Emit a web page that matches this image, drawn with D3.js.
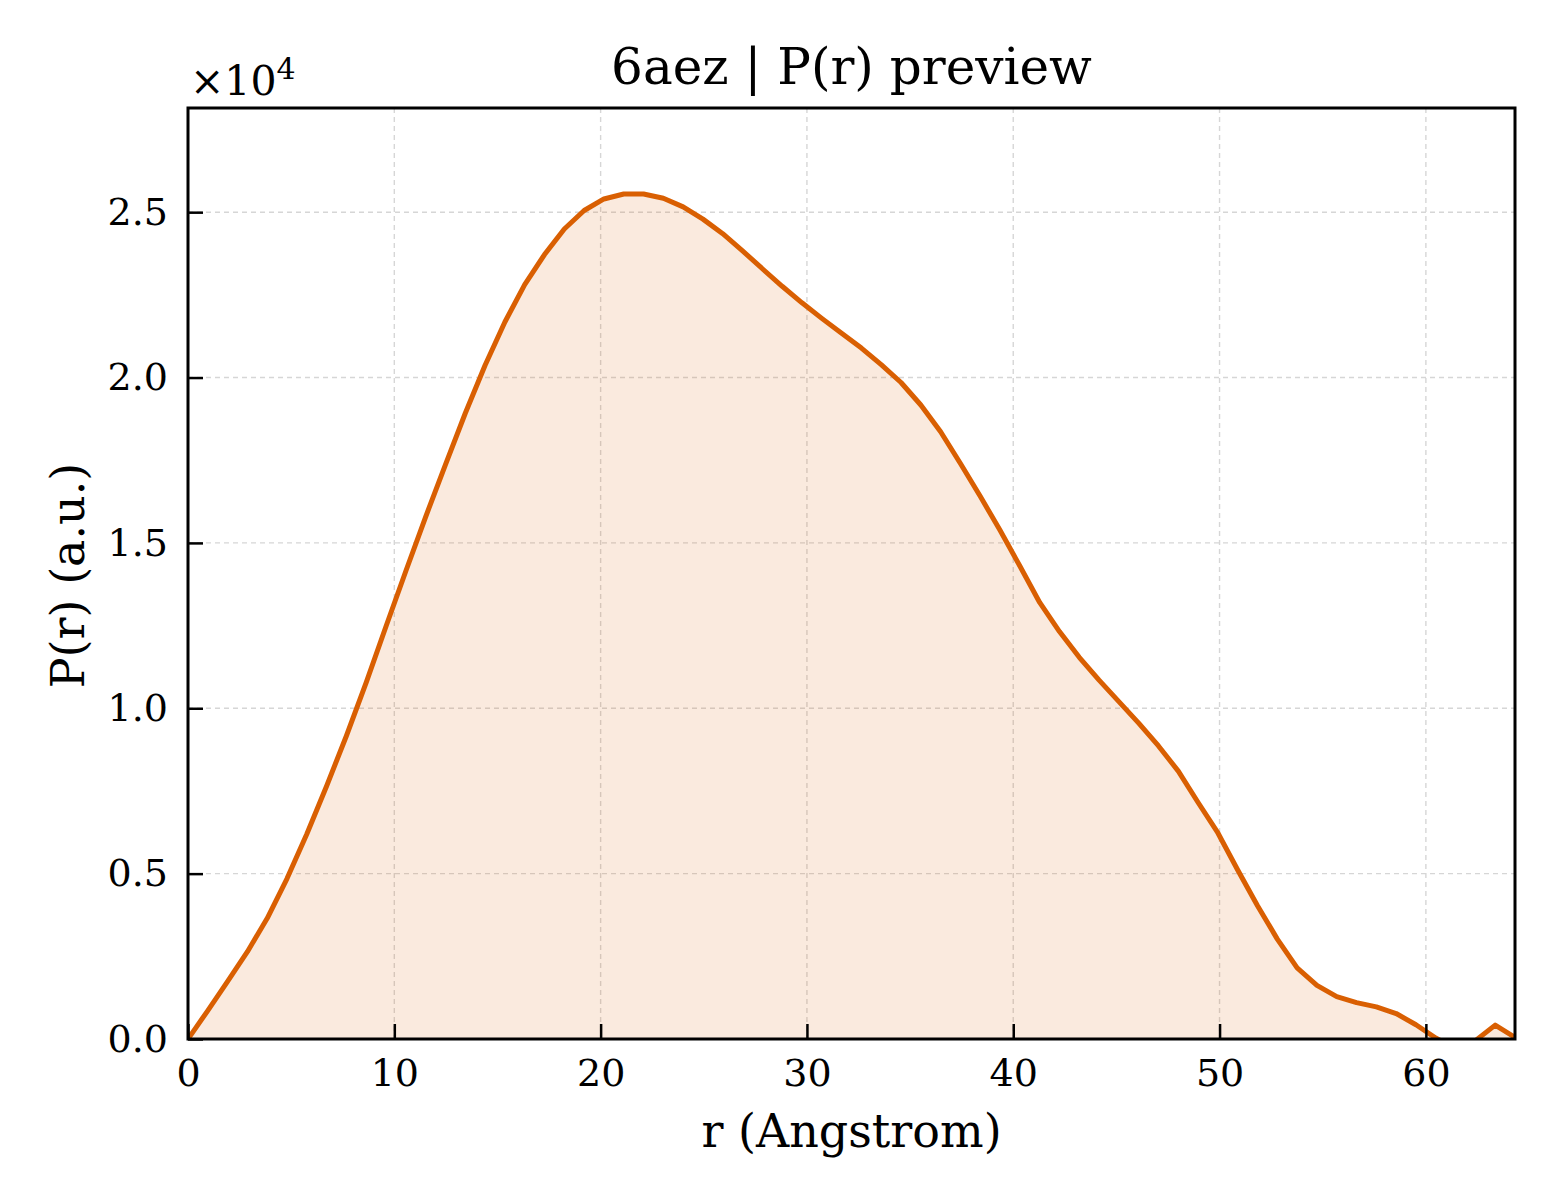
<!DOCTYPE html>
<html>
<head>
<meta charset="utf-8">
<script src="https://cdn.jsdelivr.net/npm/d3@7"></script>
<style>
  body { margin: 0; background: #fff; }
  text { font-family: "DejaVu Serif", serif; fill: #000; }
</style>
</head>
<body>
<div id="chart"></div>
<script>
// r grid (Angstrom) and P(r) values in units of 1e4
const rValues = [
  0.00, 0.96, 1.92, 2.88, 3.84, 4.80, 5.76, 6.72, 7.68, 8.64,
  9.60, 10.56, 11.52, 12.48, 13.44, 14.40, 15.36, 16.32, 17.28, 18.24,
  19.20, 20.16, 21.12, 22.08, 23.04, 24.00, 24.96, 25.92, 26.88, 27.84,
  28.80, 29.76, 30.72, 31.68, 32.64, 33.60, 34.56, 35.52, 36.48, 37.44,
  38.40, 39.36, 40.32, 41.28, 42.24, 43.20, 44.16, 45.12, 46.08, 47.04,
  48.00, 48.96, 49.92, 50.88, 51.84, 52.80, 53.76, 54.72, 55.68, 56.64,
  57.60, 58.56, 59.52, 60.48, 61.44, 62.40, 63.36, 64.32
];
const prValues = [
  0.000, 0.086, 0.174, 0.264, 0.365, 0.485, 0.620, 0.765, 0.917, 1.078,
  1.248, 1.415, 1.579, 1.737, 1.892, 2.037, 2.168, 2.281, 2.372, 2.449,
  2.505, 2.540, 2.555, 2.555, 2.542, 2.516, 2.479, 2.435, 2.383, 2.329,
  2.276, 2.226, 2.179, 2.134, 2.089, 2.039, 1.985, 1.917, 1.836, 1.740,
  1.641, 1.538, 1.430, 1.320, 1.232, 1.154, 1.085, 1.020, 0.955, 0.886,
  0.810, 0.715, 0.623, 0.511, 0.403, 0.302, 0.215, 0.162, 0.128, 0.110,
  0.097, 0.077, 0.043, 0.003, -0.030, -0.005, 0.042, 0.005
];
const xTicks = [0, 10, 20, 30, 40, 50, 60];
const yTicks = [0, 0.5, 1.0, 1.5, 2.0, 2.5];

const W = 1560, H = 1200;
const margin = {top: 108, right: 45, bottom: 161, left: 188};
const width = W - margin.left - margin.right;
const height = H - margin.top - margin.bottom;
const lineColor = "#d95f02";

const data = rValues.map((r, i) => ({x: r, y: prValues[i]}));

const svg = d3.select("#chart").append("svg")
    .attr("width", W)
    .attr("height", H);

const g = svg.append("g")
    .attr("transform", `translate(${margin.left}, ${margin.top})`);

const x = d3.scaleLinear().domain([0, d3.max(rValues)]).range([0, width]);
const y = d3.scaleLinear().domain([0, 2.815]).range([height, 0]);

g.append("clipPath").attr("id", "clip")
  .append("rect").attr("width", width).attr("height", height);

// grid
g.append("g").selectAll("line").data(xTicks.slice(1))
  .enter().append("line")
    .attr("x1", d => x(d)).attr("x2", d => x(d))
    .attr("y1", 0).attr("y2", height)
    .style("stroke", "#d6d6d6").style("stroke-width", 1.4)
    .style("stroke-dasharray", "5,4");

g.append("g").selectAll("line").data(yTicks.slice(1))
  .enter().append("line")
    .attr("x1", 0).attr("x2", width)
    .attr("y1", d => y(d)).attr("y2", d => y(d))
    .style("stroke", "#d6d6d6").style("stroke-width", 1.4)
    .style("stroke-dasharray", "5,4");

const area = d3.area()
    .x(d => x(d.x))
    .y0(y(0))
    .y1(d => y(d.y));

const valueline = d3.line()
    .x(d => x(d.x))
    .y(d => y(d.y));

const plot = g.append("g").attr("clip-path", "url(#clip)");

plot.append("path")
    .attr("d", area(data))
    .style("fill", lineColor)
    .style("fill-opacity", 0.13);

plot.append("path")
    .attr("d", valueline(data))
    .style("fill", "none")
    .style("stroke", lineColor)
    .style("stroke-width", 5)
    .style("stroke-linejoin", "round");

// axes, ticks pointing inward
const xAxis = g.append("g")
    .attr("transform", `translate(0, ${height})`)
    .call(d3.axisBottom(x).tickValues(xTicks).tickSizeInner(-15).tickSizeOuter(0).tickPadding(20)
      .tickFormat(d3.format("d")));

const yAxis = g.append("g")
    .call(d3.axisLeft(y).tickValues(yTicks).tickSizeInner(-15).tickSizeOuter(0).tickPadding(20)
      .tickFormat(d3.format(".1f")));

[xAxis, yAxis].forEach(a => {
  a.select(".domain").remove();
  a.selectAll(".tick line").style("stroke", "#000").style("stroke-width", 2.5);
  a.selectAll(".tick text").style("font-size", "38px").style("font-family", "DejaVu Serif");
});

// frame
g.append("rect")
    .attr("width", width).attr("height", height)
    .style("fill", "none").style("stroke", "#000").style("stroke-width", 3);

// offset label
const off = g.append("text")
    .attr("x", 2).attr("y", -13)
    .style("font-size", "41px");
off.append("tspan").text("\u00d710");
off.append("tspan").attr("dy", -16).style("font-size", "30px").text("4");

// title
g.append("text")
    .attr("x", width / 2).attr("y", -24)
    .attr("text-anchor", "middle")
    .style("font-size", "50px")
    .text("6aez | P(r) preview");

// axis labels
g.append("text")
    .attr("x", width / 2).attr("y", height + 108)
    .attr("text-anchor", "middle")
    .style("font-size", "46px")
    .text("r (Angstrom)");

g.append("text")
    .attr("transform", `translate(${-104}, ${height / 2 + 2}) rotate(-90)`)
    .attr("text-anchor", "middle")
    .style("font-size", "46px")
    .text("P(r) (a.u.)");
</script>
</body>
</html>
